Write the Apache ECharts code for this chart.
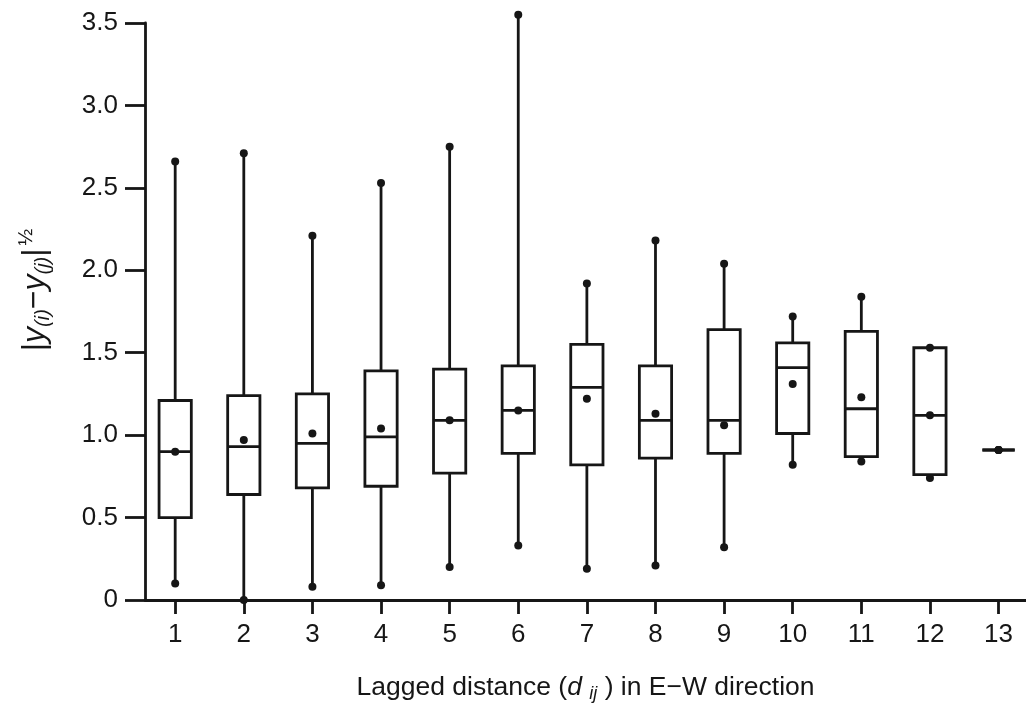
<!DOCTYPE html>
<html>
<head>
<meta charset="utf-8">
<script src="https://cdn.jsdelivr.net/npm/echarts@6/dist/echarts.min.js"></script>
<style>
  html, body { margin: 0; padding: 0; background: #fff; }
  #chart { width: 1026px; height: 708px; }
</style>
</head>
<body>
<div id="chart"></div>
<script>
// Lag classes (E-W direction)
const lags = [1, 2, 3, 4, 5, 6, 7, 8, 9, 10, 11, 12, 13];

// Five-number summaries of |y(i) - y(j)|^1/2 per lag, plus the mean
const whiskerLow  = [0.10, 0.00, 0.08, 0.09, 0.20, 0.33, 0.19, 0.21, 0.32, 0.82, 0.84, 0.74, 0.91];
const quartile1   = [0.50, 0.64, 0.68, 0.69, 0.77, 0.89, 0.82, 0.86, 0.89, 1.01, 0.87, 0.76, 0.91];
const medians     = [0.90, 0.93, 0.95, 0.99, 1.09, 1.15, 1.29, 1.09, 1.09, 1.41, 1.16, 1.12, 0.91];
const quartile3   = [1.21, 1.24, 1.25, 1.39, 1.40, 1.42, 1.55, 1.42, 1.64, 1.56, 1.63, 1.53, 0.91];
const whiskerHigh = [2.66, 2.71, 2.21, 2.53, 2.75, 3.55, 1.92, 2.18, 2.04, 1.72, 1.84, 1.53, 0.91];
const means       = [0.90, 0.97, 1.01, 1.04, 1.09, 1.15, 1.22, 1.13, 1.06, 1.31, 1.23, 1.12, 0.91];

const INK = '#161616';
const FONT = 'Liberation Sans, Arial, Helvetica, sans-serif';

const boxData = lags.map((x, i) => [
  x, whiskerLow[i], quartile1[i], medians[i], quartile3[i], whiskerHigh[i], means[i]
]);

const BOX_HALF = 0.235; // half box width, in lag units
const DOT_R = 4;
const LW = 2.8;

function renderBox(params, api) {
  const x = api.value(0);
  const lo = api.coord([x, api.value(1)]);
  const q1 = api.coord([x, api.value(2)]);
  const md = api.coord([x, api.value(3)]);
  const q3 = api.coord([x, api.value(4)]);
  const hi = api.coord([x, api.value(5)]);
  const mn = api.coord([x, api.value(6)]);
  const left = api.coord([x - BOX_HALF, 0])[0];
  const right = api.coord([x + BOX_HALF, 0])[0];
  const cx = lo[0];
  const line = { stroke: INK, lineWidth: LW, fill: null };
  const dot = { fill: INK };
  return {
    type: 'group',
    children: [
      { type: 'line', shape: { x1: cx, y1: q3[1], x2: cx, y2: hi[1] }, style: line },
      { type: 'line', shape: { x1: cx, y1: q1[1], x2: cx, y2: lo[1] }, style: line },
      { type: 'rect', shape: { x: left, y: q3[1], width: right - left, height: q1[1] - q3[1] }, style: line },
      { type: 'line', shape: { x1: left, y1: md[1], x2: right, y2: md[1] }, style: line },
      { type: 'circle', shape: { cx: cx, cy: hi[1], r: DOT_R }, style: dot },
      { type: 'circle', shape: { cx: cx, cy: lo[1], r: DOT_R }, style: dot },
      { type: 'circle', shape: { cx: cx, cy: mn[1], r: DOT_R }, style: dot }
    ]
  };
}

const chart = echarts.init(document.getElementById('chart'), null, { renderer: 'canvas' });

chart.setOption({
  backgroundColor: '#ffffff',
  animation: false,
  grid: { left: 145, right: 0, top: 23, bottom: 106, containLabel: false },
  xAxis: {
    type: 'value',
    min: 0.56,
    max: 13.4,
    splitLine: { show: false },
    axisLine: { show: true, onZero: false, lineStyle: { color: INK, width: LW } },
    axisTick: { show: true, customValues: lags, length: 14, lineStyle: { color: INK, width: LW } },
    axisLabel: { customValues: lags, color: INK, fontSize: 26, fontFamily: FONT, margin: 22 },
    name: '{n|Lagged distance (}{it|d}{n| }{sub|ij}{n| ) in E\u2212W direction}',
    nameLocation: 'middle',
    nameGap: 72,
    nameTextStyle: {
      color: INK,
      fontFamily: FONT,
      rich: {
        n: { fontSize: 26.5, fontFamily: FONT, color: INK, lineHeight: 32 },
        it: { fontSize: 26.5, fontFamily: FONT, fontStyle: 'italic', color: INK, lineHeight: 32 },
        sub: { fontSize: 18, fontFamily: FONT, fontStyle: 'italic', color: INK, lineHeight: 32, padding: [12, 0, 0, 0] }
      }
    }
  },
  yAxis: {
    type: 'value',
    min: 0,
    max: 3.5,
    interval: 0.5,
    splitLine: { show: false },
    axisLine: { show: true, onZero: false, lineStyle: { color: INK, width: LW } },
    axisTick: { show: true, length: 20, lineStyle: { color: INK, width: LW } },
    axisLabel: {
      color: INK, fontSize: 26, fontFamily: FONT, margin: 27,
      formatter: v => (v === 0 ? '0' : v.toFixed(1))
    }
  },
  graphic: [{
    type: 'text',
    x: 35,
    y: 290,
    rotation: Math.PI / 2,
    style: {
      text: '{n||}{it|y}{sub|(i)}{n|\u2212}{it|y}{sub|(j)}{n||}{sup|\u00bd}',
      align: 'center',
      verticalAlign: 'middle',
      fill: INK,
      rich: {
        n: { fontSize: 32, fontFamily: FONT, fill: INK, lineHeight: 40 },
        it: { fontSize: 32, fontFamily: FONT, fontStyle: 'italic', fill: INK, lineHeight: 40 },
        sub: { fontSize: 20, fontFamily: FONT, fontStyle: 'italic', fill: INK, lineHeight: 40, padding: [16, 0, 0, 0] },
        sup: { fontSize: 20, fontFamily: FONT, fill: INK, lineHeight: 40, padding: [0, 0, 18, 3] }
      }
    }
  }],
  series: [{
    type: 'custom',
    renderItem: renderBox,
    clip: false,
    encode: { x: 0, y: [1, 2, 3, 4, 5, 6] },
    data: boxData
  }]
});
</script>
</body>
</html>
